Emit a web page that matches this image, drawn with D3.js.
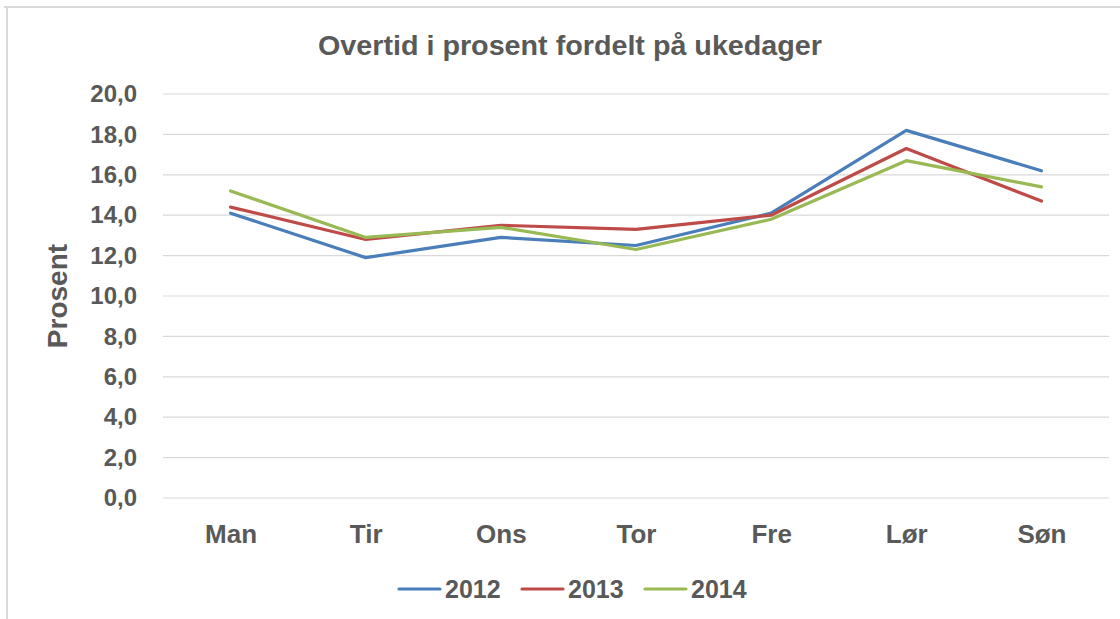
<!DOCTYPE html>
<html>
<head>
<meta charset="utf-8">
<script src="https://cdn.jsdelivr.net/npm/d3@7"></script>
<style>
  html, body { margin: 0; padding: 0; background: #fff; }
  svg { display: block; font-family: "Liberation Sans", Arial, sans-serif; }
</style>
</head>
<body>
<svg id="chart" width="1120" height="619"></svg>
<script>
// Overtid i prosent fordelt på ukedager
const days = ["Man", "Tir", "Ons", "Tor", "Fre", "Lør", "Søn"];
const years = ["2012", "2013", "2014"];
const values2012 = [14.1, 11.9, 12.9, 12.5, 14.1, 18.2, 16.2];
const values2013 = [14.4, 12.8, 13.5, 13.3, 14.0, 17.3, 14.7];
const values2014 = [15.2, 12.9, 13.4, 12.3, 13.8, 16.7, 15.4];
const yTicks = [0, 2, 4, 6, 8, 10, 12, 14, 16, 18, 20];
const colors = ["#4A7EBB", "#BE4B48", "#98B954"];

const series = [values2012, values2013, values2014];

const svg = d3.select("#chart");
const W = 1120, H = 619;
const plot = { left: 163, right: 1109, top: 94, bottom: 498 };
const ink = "#595959";

// chart frame (only top/left edges visible in the crop)
svg.append("line").attr("x1", 4).attr("x2", W).attr("y1", 7).attr("y2", 7)
  .attr("stroke", "#d9d9d9").attr("stroke-width", 2);
svg.append("line").attr("x1", 7).attr("x2", 7).attr("y1", 6).attr("y2", H)
  .attr("stroke", "#d9d9d9").attr("stroke-width", 2);

const x = d3.scalePoint().domain(days).range([plot.left, plot.right]).padding(0.5);
const y = d3.scaleLinear().domain([0, 20]).range([plot.bottom, plot.top]);

// gridlines
svg.append("g").selectAll("line").data(yTicks).enter().append("line")
  .attr("x1", plot.left).attr("x2", plot.right)
  .attr("y1", d => y(d)).attr("y2", d => y(d))
  .attr("stroke", "#d9d9d9").attr("stroke-width", 1.2);

// y axis labels
const fmt = d => d.toFixed(1).replace(".", ",");
const yAxis = svg.append("g").attr("transform", `translate(${plot.left},0)`)
  .call(d3.axisLeft(y).tickValues(yTicks).tickFormat(fmt).tickSize(0).tickPadding(26));
yAxis.select(".domain").remove();
yAxis.selectAll("text").attr("fill", ink).attr("font-size", 24).attr("font-weight", 700)
  .attr("font-family", "'Liberation Sans', Arial, sans-serif");

// x axis labels
const xAxis = svg.append("g").attr("transform", `translate(0,${plot.bottom})`)
  .call(d3.axisBottom(x).tickSize(0).tickPadding(27));
xAxis.select(".domain").remove();
xAxis.selectAll("text").attr("fill", ink).attr("font-size", 26).attr("font-weight", 700)
  .attr("font-family", "'Liberation Sans', Arial, sans-serif");

// lines
const line = d3.line().x((d, i) => x(days[i])).y(d => y(d));
svg.append("g").selectAll("path").data(series).enter().append("path")
  .attr("d", line)
  .attr("fill", "none")
  .attr("stroke", (d, i) => colors[i])
  .attr("stroke-width", 3.2)
  .attr("stroke-linejoin", "round")
  .attr("stroke-linecap", "round");

// title
svg.append("text").attr("x", 570).attr("y", 55)
  .attr("text-anchor", "middle").attr("fill", ink)
  .attr("font-size", 27).attr("font-weight", 700)
  .attr("textLength", 504).attr("lengthAdjust", "spacingAndGlyphs")
  .text("Overtid i prosent fordelt på ukedager");

// y axis title
svg.append("text")
  .attr("transform", `translate(67,${(plot.top + plot.bottom) / 2}) rotate(-90)`)
  .attr("text-anchor", "middle").attr("fill", ink)
  .attr("font-size", 28).attr("font-weight", 700)
  .text("Prosent");

// legend
const legendX = [399, 522, 645];
const lg = svg.append("g").selectAll("g").data(years).enter().append("g")
  .attr("transform", (d, i) => `translate(${legendX[i]},589)`);
lg.append("line").attr("x1", 0).attr("x2", 41).attr("y1", 0).attr("y2", 0)
  .attr("stroke", (d, i) => colors[i]).attr("stroke-width", 3.2).attr("stroke-linecap", "round");
lg.append("text").attr("x", 46).attr("y", 9).attr("fill", ink)
  .attr("font-size", 25).attr("font-weight", 700).text(d => d);
</script>
</body>
</html>
